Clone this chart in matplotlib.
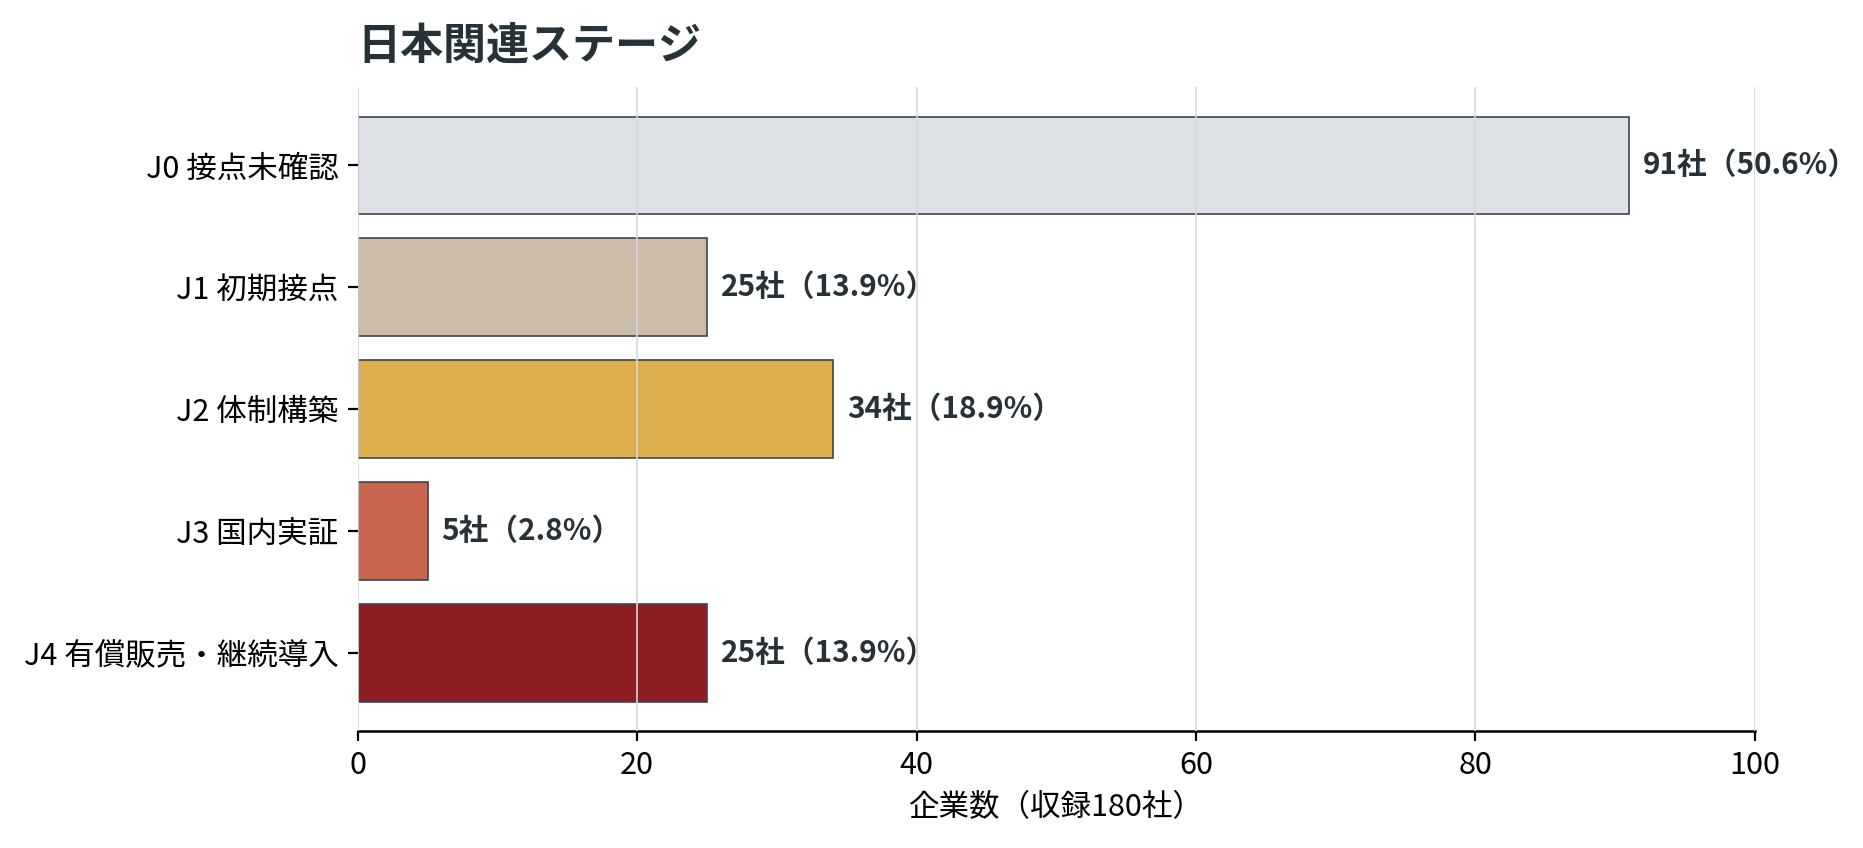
import matplotlib
matplotlib.use("Agg")
from matplotlib import pyplot as plt

stages = ["J0 接点未確認", "J1 初期接点", "J2 体制構築", "J3 国内実証", "J4 有償販売・継続導入"]
counts = [91, 25, 34, 5, 25]
total = 180
colors = ["#dde1e6", "#cdbda8", "#dcae4e", "#c8654d", "#8c1d22"]

plt.rcParams["font.family"] = ["Noto Sans CJK JP", "DejaVu Sans"]


def main() -> None:
    fig, ax = plt.subplots(figsize=(9.315, 4.24), dpi=200)
    fig.subplots_adjust(left=0.192, right=0.942, top=0.897, bottom=0.138)

    ypos = list(range(len(stages)))
    ax.barh(ypos, counts, height=0.8, color=colors, edgecolor="#3c4650", linewidth=0.6)
    ax.set_yticks(ypos)
    ax.set_yticklabels(stages, fontsize=11)
    ax.invert_yaxis()
    ax.set_xlim(0, 100)

    for y, c in zip(ypos, counts):
        ax.text(c + 1, y, f"{c}社（{c / total * 100:.1f}%）", va="center", ha="left",
                fontsize=10.7, fontweight="bold", color="#263238")

    ax.grid(axis="x", color="#d5d8dc", linewidth=0.6)
    ax.set_axisbelow(False)
    for side in ("top", "right", "left"):
        ax.spines[side].set_visible(False)
    ax.spines["bottom"].set_linewidth(0.9)
    ax.tick_params(axis="x", labelsize=11)
    ax.set_xlabel("企業数（収録180社）", fontsize=11)
    ax.set_title("日本関連ステージ", loc="left", fontsize=15.5, fontweight="bold",
                 color="#263238", pad=10)

    fig.savefig("out.png", dpi=200)


if __name__ == "__main__":
    main()
